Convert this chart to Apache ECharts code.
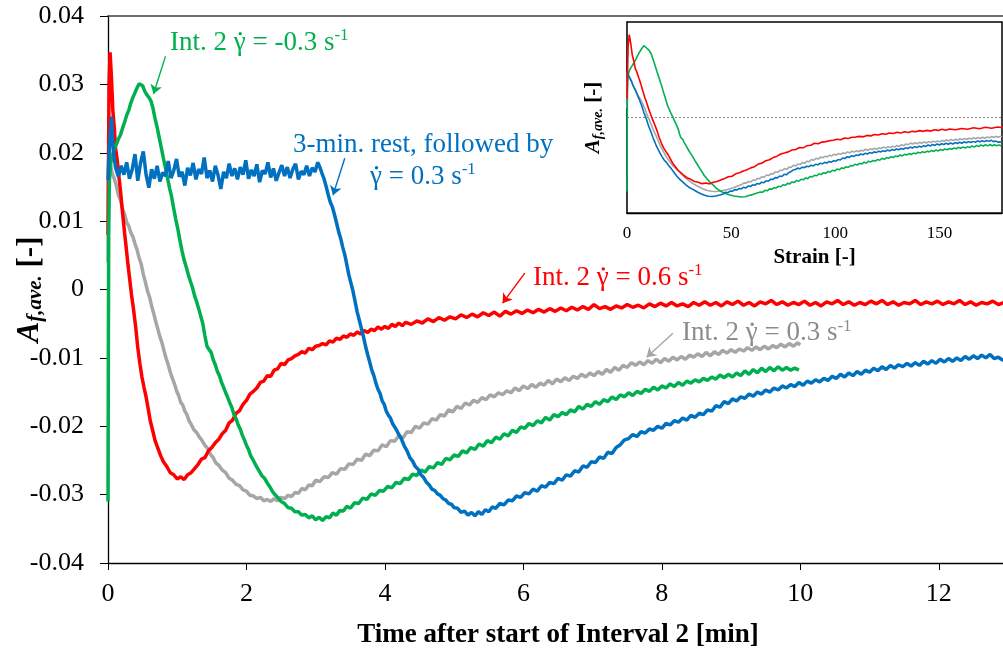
<!DOCTYPE html>
<html><head><meta charset="utf-8">
<script src="https://cdn.jsdelivr.net/npm/echarts@6/dist/echarts.min.js"></script>
<style>html,body{margin:0;padding:0;background:#fff}#c{width:1003px;height:651px}</style>
</head><body><div id="c"></div>
<script>
// [time (min), A_f,ave.]
const redData = [[0,0.008],[0.015,0.03],[0.03,0.0347],[0.05,0.031],[0.07,0.0262],[0.09,0.0238],[0.11,0.0205],[0.13,0.0192],[0.16,0.0163],[0.18,0.0145],[0.21,0.0112],[0.24,0.0082],[0.26,0.0064],[0.29,0.0035],[0.31,0.0018],[0.34,-0.0008],[0.37,-0.003],[0.4,-0.0055],[0.43,-0.0085],[0.46,-0.0108],[0.49,-0.0128],[0.52,-0.0143],[0.55,-0.0157],[0.58,-0.0174],[0.61,-0.0192],[0.64,-0.0204],[0.68,-0.0221],[0.72,-0.0232],[0.76,-0.0243],[0.8,-0.0252],[0.85,-0.0259],[0.9,-0.0268],[0.95,-0.0271],[1.0,-0.0277],[1.05,-0.0274],[1.1,-0.0278],[1.15,-0.0271],[1.2,-0.0268],[1.25,-0.0262],[1.3,-0.0256],[1.35,-0.0248],[1.4,-0.0246],[1.45,-0.0236],[1.5,-0.0231],[1.55,-0.0224],[1.6,-0.0219],[1.65,-0.0211],[1.7,-0.0206],[1.75,-0.0195],[1.8,-0.0191],[1.85,-0.0181],[1.9,-0.0177],[1.95,-0.0168],[2.0,-0.0162],[2.05,-0.0153],[2.1,-0.0149],[2.15,-0.0144],[2.2,-0.0136],[2.25,-0.0134],[2.3,-0.0126],[2.35,-0.0127],[2.4,-0.0118],[2.45,-0.0116],[2.5,-0.0108],[2.55,-0.011],[2.6,-0.0103],[2.65,-0.0101],[2.7,-0.0097],[2.75,-0.0095],[2.8,-0.0091],[2.85,-0.0093],[2.9,-0.0086],[2.95,-0.0088],[3.0,-0.0083],[3.05,-0.0082],[3.1,-0.0079],[3.15,-0.0081],[3.2,-0.0075],[3.25,-0.0077],[3.3,-0.0071],[3.35,-0.0073],[3.4,-0.0068],[3.45,-0.007],[3.5,-0.0065],[3.55,-0.0067],[3.6,-0.0062],[3.65,-0.0065],[3.7,-0.006],[3.75,-0.0063],[3.8,-0.0058],[3.85,-0.006],[3.9,-0.0055],[3.95,-0.0058],[4.0,-0.0054],[4.05,-0.0057],[4.1,-0.0051],[4.15,-0.0054],[4.2,-0.0049],[4.25,-0.0053],[4.3,-0.0048],[4.38,-0.0051],[4.46,-0.0046],[4.54,-0.0049],[4.62,-0.0043],[4.7,-0.0047],[4.78,-0.0041],[4.86,-0.0045],[4.94,-0.004],[5.02,-0.0043],[5.1,-0.0037],[5.18,-0.0041],[5.26,-0.0036],[5.34,-0.004],[5.42,-0.0034],[5.5,-0.0038],[5.58,-0.0033],[5.66,-0.0039],[5.74,-0.0032],[5.82,-0.0036],[5.9,-0.0031],[5.98,-0.0035],[6.06,-0.003],[6.14,-0.0034],[6.22,-0.0029],[6.3,-0.0033],[6.38,-0.0028],[6.46,-0.0032],[6.54,-0.0027],[6.62,-0.0031],[6.7,-0.0026],[6.78,-0.003],[6.86,-0.0025],[6.94,-0.0029],[7.02,-0.0022],[7.1,-0.0028],[7.18,-0.0025],[7.26,-0.0029],[7.34,-0.0024],[7.42,-0.0027],[7.5,-0.0022],[7.58,-0.0026],[7.66,-0.0023],[7.74,-0.0027],[7.82,-0.0021],[7.9,-0.0025],[7.98,-0.002],[8.06,-0.0024],[8.14,-0.0019],[8.22,-0.0024],[8.3,-0.0021],[8.38,-0.0025],[8.46,-0.0019],[8.54,-0.0023],[8.62,-0.0018],[8.7,-0.0023],[8.78,-0.0019],[8.86,-0.0024],[8.94,-0.0018],[9.02,-0.0022],[9.1,-0.0017],[9.18,-0.0023],[9.26,-0.0019],[9.34,-0.0024],[9.42,-0.0018],[9.5,-0.0021],[9.58,-0.0016],[9.66,-0.0022],[9.74,-0.0018],[9.82,-0.0023],[9.9,-0.0019],[9.98,-0.0022],[10.06,-0.0017],[10.14,-0.0023],[10.22,-0.0019],[10.3,-0.0024],[10.38,-0.0018],[10.46,-0.0021],[10.54,-0.0016],[10.62,-0.0022],[10.7,-0.0018],[10.78,-0.0023],[10.86,-0.0019],[10.94,-0.0022],[11.02,-0.0017],[11.1,-0.0021],[11.18,-0.0016],[11.26,-0.0022],[11.34,-0.0018],[11.42,-0.0023],[11.5,-0.0019],[11.58,-0.0021],[11.66,-0.0016],[11.74,-0.0022],[11.82,-0.0018],[11.9,-0.0021],[11.98,-0.0017],[12.06,-0.0022],[12.14,-0.0018],[12.22,-0.0021],[12.3,-0.0016],[12.38,-0.0022],[12.46,-0.0018],[12.54,-0.0023],[12.62,-0.0019],[12.7,-0.0021],[12.78,-0.0017],[12.86,-0.0022],[12.94,-0.0019],[13.0,-0.002]];

const grayData = [[0,0.004],[0.01,0.019],[0.03,0.0185],[0.06,0.017],[0.09,0.0162],[0.12,0.0152],[0.15,0.0138],[0.18,0.0131],[0.21,0.0118],[0.24,0.011],[0.27,0.0098],[0.3,0.0093],[0.33,0.0083],[0.36,0.0077],[0.39,0.0067],[0.42,0.0058],[0.45,0.0046],[0.48,0.0037],[0.51,0.0022],[0.54,0.0011],[0.57,-0.0002],[0.6,-0.0011],[0.63,-0.0024],[0.66,-0.0035],[0.69,-0.0047],[0.72,-0.0058],[0.75,-0.0069],[0.78,-0.0078],[0.81,-0.009],[0.84,-0.0101],[0.87,-0.011],[0.9,-0.0121],[0.93,-0.013],[0.96,-0.0138],[0.99,-0.0148],[1.02,-0.0155],[1.05,-0.0165],[1.08,-0.0169],[1.11,-0.0178],[1.14,-0.0183],[1.17,-0.0192],[1.2,-0.0197],[1.24,-0.0205],[1.28,-0.0209],[1.32,-0.0216],[1.36,-0.0221],[1.4,-0.0228],[1.44,-0.0232],[1.48,-0.0241],[1.52,-0.0246],[1.56,-0.0254],[1.6,-0.0257],[1.65,-0.0264],[1.7,-0.0268],[1.75,-0.0276],[1.8,-0.0279],[1.85,-0.0285],[1.9,-0.0287],[1.95,-0.0293],[2.0,-0.0295],[2.05,-0.0301],[2.1,-0.0302],[2.15,-0.0306],[2.2,-0.0304],[2.25,-0.0309],[2.3,-0.0307],[2.35,-0.031],[2.4,-0.0306],[2.45,-0.0309],[2.5,-0.0304],[2.55,-0.0306],[2.6,-0.0301],[2.65,-0.0303],[2.7,-0.0297],[2.75,-0.0298],[2.8,-0.0291],[2.85,-0.0293],[2.9,-0.0286],[2.95,-0.0287],[3.0,-0.0279],[3.06,-0.0281],[3.12,-0.0274],[3.18,-0.0275],[3.24,-0.0268],[3.3,-0.027],[3.36,-0.0262],[3.42,-0.0263],[3.48,-0.0255],[3.54,-0.0256],[3.6,-0.0248],[3.66,-0.025],[3.72,-0.0241],[3.78,-0.0243],[3.84,-0.0235],[3.9,-0.0236],[3.96,-0.0227],[4.02,-0.023],[4.08,-0.0221],[4.14,-0.0222],[4.2,-0.0214],[4.26,-0.0217],[4.32,-0.0208],[4.38,-0.0209],[4.44,-0.02],[4.5,-0.0203],[4.56,-0.0195],[4.62,-0.0197],[4.68,-0.0189],[4.74,-0.0191],[4.8,-0.0183],[4.86,-0.0185],[4.92,-0.0176],[4.98,-0.0179],[5.04,-0.0171],[5.1,-0.0174],[5.16,-0.0166],[5.22,-0.0169],[5.28,-0.0162],[5.34,-0.0165],[5.4,-0.0158],[5.46,-0.0161],[5.52,-0.0154],[5.58,-0.0157],[5.64,-0.0151],[5.7,-0.0154],[5.76,-0.0148],[5.82,-0.0151],[5.88,-0.0144],[5.94,-0.0148],[6.0,-0.0141],[6.06,-0.0145],[6.12,-0.0139],[6.18,-0.0143],[6.24,-0.0137],[6.3,-0.014],[6.36,-0.0133],[6.42,-0.0138],[6.48,-0.0131],[6.54,-0.0135],[6.6,-0.0129],[6.66,-0.0133],[6.72,-0.0127],[6.78,-0.013],[6.84,-0.0124],[6.9,-0.0128],[6.96,-0.0122],[7.02,-0.0126],[7.08,-0.012],[7.14,-0.0124],[7.2,-0.0117],[7.26,-0.0121],[7.32,-0.0114],[7.38,-0.0118],[7.44,-0.0111],[7.5,-0.0114],[7.56,-0.0107],[7.62,-0.0111],[7.68,-0.0106],[7.74,-0.011],[7.8,-0.0104],[7.86,-0.0108],[7.92,-0.0102],[7.98,-0.0107],[8.04,-0.0101],[8.1,-0.0105],[8.16,-0.0099],[8.22,-0.0103],[8.28,-0.0098],[8.34,-0.0102],[8.4,-0.0096],[8.46,-0.0099],[8.52,-0.0094],[8.58,-0.0098],[8.64,-0.0092],[8.7,-0.0097],[8.76,-0.0091],[8.82,-0.0095],[8.88,-0.0089],[8.94,-0.0093],[9.0,-0.0088],[9.06,-0.0092],[9.12,-0.0087],[9.18,-0.009],[9.24,-0.0085],[9.3,-0.0089],[9.36,-0.0084],[9.42,-0.0088],[9.48,-0.0083],[9.54,-0.0087],[9.6,-0.0082],[9.66,-0.0085],[9.72,-0.008],[9.78,-0.0084],[9.84,-0.0079],[9.9,-0.0083],[9.96,-0.0078],[10.0,-0.0081]];

const greenData = [[0,-0.031],[0.005,-0.01],[0.01,0.008],[0.02,0.016],[0.04,0.0185],[0.06,0.0195],[0.08,0.0202],[0.1,0.0208],[0.12,0.0212],[0.15,0.022],[0.18,0.0226],[0.21,0.0236],[0.24,0.0245],[0.27,0.0255],[0.3,0.0262],[0.33,0.0273],[0.36,0.0281],[0.39,0.0288],[0.42,0.0295],[0.45,0.0301],[0.47,0.0303],[0.5,0.0298],[0.53,0.029],[0.56,0.0285],[0.59,0.0281],[0.62,0.0276],[0.65,0.0265],[0.68,0.025],[0.71,0.0237],[0.74,0.0222],[0.77,0.0207],[0.8,0.0192],[0.83,0.0178],[0.86,0.0163],[0.89,0.0148],[0.92,0.0135],[0.95,0.0118],[0.98,0.0102],[1.01,0.0088],[1.04,0.0071],[1.07,0.0056],[1.1,0.0043],[1.13,0.0033],[1.16,0.0022],[1.19,0.0012],[1.22,0.0003],[1.25,-0.0009],[1.28,-0.0018],[1.31,-0.0028],[1.34,-0.0039],[1.37,-0.005],[1.4,-0.0068],[1.43,-0.0083],[1.46,-0.0088],[1.49,-0.0092],[1.52,-0.0103],[1.55,-0.011],[1.58,-0.012],[1.61,-0.0126],[1.64,-0.0136],[1.67,-0.0143],[1.7,-0.0151],[1.73,-0.0158],[1.76,-0.0166],[1.79,-0.0173],[1.82,-0.0183],[1.85,-0.0189],[1.88,-0.0198],[1.91,-0.0204],[1.94,-0.0213],[1.97,-0.022],[2.0,-0.0228],[2.03,-0.0234],[2.06,-0.0243],[2.1,-0.025],[2.14,-0.0258],[2.18,-0.0265],[2.22,-0.0272],[2.26,-0.0276],[2.3,-0.0283],[2.34,-0.0289],[2.38,-0.0296],[2.42,-0.0301],[2.46,-0.0305],[2.5,-0.031],[2.55,-0.0313],[2.6,-0.0319],[2.65,-0.032],[2.7,-0.0325],[2.75,-0.0325],[2.8,-0.033],[2.85,-0.0329],[2.9,-0.0334],[2.95,-0.0331],[3.0,-0.0337],[3.05,-0.0333],[3.1,-0.0338],[3.15,-0.0332],[3.2,-0.0334],[3.25,-0.0327],[3.3,-0.033],[3.35,-0.0323],[3.4,-0.0324],[3.45,-0.0317],[3.5,-0.032],[3.56,-0.0312],[3.62,-0.0313],[3.68,-0.0305],[3.74,-0.0307],[3.8,-0.0299],[3.86,-0.0301],[3.92,-0.0294],[3.98,-0.0295],[4.04,-0.0288],[4.1,-0.029],[4.16,-0.0282],[4.22,-0.0284],[4.28,-0.0276],[4.34,-0.0278],[4.4,-0.027],[4.46,-0.0272],[4.52,-0.0264],[4.58,-0.0267],[4.64,-0.0259],[4.7,-0.0261],[4.76,-0.0253],[4.82,-0.0256],[4.88,-0.0247],[4.94,-0.0249],[5.0,-0.0242],[5.06,-0.0244],[5.12,-0.0236],[5.18,-0.0239],[5.24,-0.0231],[5.3,-0.0234],[5.36,-0.0226],[5.42,-0.0229],[5.48,-0.0221],[5.54,-0.0224],[5.6,-0.0216],[5.66,-0.0219],[5.72,-0.0211],[5.78,-0.0214],[5.84,-0.0206],[5.9,-0.0209],[5.96,-0.0201],[6.02,-0.0203],[6.08,-0.0196],[6.14,-0.0199],[6.2,-0.0192],[6.26,-0.0195],[6.32,-0.0187],[6.38,-0.0191],[6.44,-0.0183],[6.5,-0.0186],[6.56,-0.018],[6.62,-0.0183],[6.68,-0.0176],[6.74,-0.0179],[6.8,-0.0171],[6.86,-0.0175],[6.92,-0.0168],[6.98,-0.0171],[7.04,-0.0164],[7.1,-0.0168],[7.16,-0.0161],[7.22,-0.0164],[7.28,-0.0157],[7.34,-0.0161],[7.4,-0.0154],[7.46,-0.0157],[7.52,-0.0151],[7.58,-0.0155],[7.64,-0.0149],[7.7,-0.0152],[7.76,-0.0146],[7.82,-0.0149],[7.88,-0.0143],[7.94,-0.0147],[8.0,-0.0141],[8.06,-0.0144],[8.12,-0.0138],[8.18,-0.0142],[8.24,-0.0136],[8.3,-0.014],[8.36,-0.0134],[8.42,-0.0137],[8.48,-0.0132],[8.54,-0.0135],[8.6,-0.013],[8.66,-0.0133],[8.72,-0.0128],[8.78,-0.0131],[8.84,-0.0125],[8.9,-0.0129],[8.96,-0.0124],[9.02,-0.0128],[9.08,-0.0122],[9.14,-0.0126],[9.2,-0.0119],[9.26,-0.0124],[9.32,-0.0117],[9.38,-0.0122],[9.44,-0.0115],[9.5,-0.012],[9.56,-0.0114],[9.62,-0.0119],[9.68,-0.0113],[9.74,-0.0118],[9.8,-0.0114],[9.86,-0.0118],[9.92,-0.0115],[9.98,-0.0118]];

const blueData = [[0,0.016],[0.02,0.021],[0.05,0.0253],[0.07,0.021],[0.09,0.0192],[0.11,0.0178],[0.15,0.0165],[0.19,0.0181],[0.23,0.0168],[0.27,0.0186],[0.31,0.0162],[0.35,0.0176],[0.39,0.0198],[0.43,0.0159],[0.47,0.0185],[0.51,0.0202],[0.55,0.0168],[0.59,0.0149],[0.63,0.0176],[0.67,0.0162],[0.71,0.0181],[0.75,0.0158],[0.79,0.0171],[0.83,0.0166],[0.87,0.0188],[0.91,0.0163],[0.95,0.0174],[0.99,0.0191],[1.03,0.0165],[1.07,0.0172],[1.11,0.0152],[1.15,0.0178],[1.19,0.0167],[1.23,0.0185],[1.27,0.0161],[1.31,0.0176],[1.35,0.0169],[1.39,0.0193],[1.43,0.0163],[1.47,0.0174],[1.51,0.0158],[1.55,0.0181],[1.59,0.0167],[1.63,0.0147],[1.67,0.0172],[1.71,0.0163],[1.75,0.0184],[1.79,0.0166],[1.83,0.0177],[1.87,0.0161],[1.91,0.0179],[1.95,0.0168],[1.99,0.0189],[2.03,0.0162],[2.07,0.0175],[2.11,0.0166],[2.15,0.0183],[2.19,0.0157],[2.23,0.0174],[2.27,0.0169],[2.31,0.0186],[2.35,0.0164],[2.39,0.0177],[2.43,0.0159],[2.47,0.0171],[2.51,0.0182],[2.55,0.0166],[2.59,0.0179],[2.63,0.0163],[2.67,0.0176],[2.71,0.0184],[2.75,0.0161],[2.79,0.0173],[2.83,0.0168],[2.87,0.0181],[2.91,0.0166],[2.95,0.0178],[2.99,0.0172],[3.03,0.0186],[3.06,0.0179],[3.09,0.017],[3.12,0.0162],[3.15,0.0151],[3.18,0.0139],[3.21,0.0128],[3.24,0.0121],[3.27,0.011],[3.3,0.0098],[3.33,0.0085],[3.36,0.0075],[3.39,0.0062],[3.42,0.0051],[3.45,0.0036],[3.48,0.0021],[3.51,0.0009],[3.54,-0.0003],[3.57,-0.0018],[3.6,-0.0033],[3.63,-0.0045],[3.66,-0.0057],[3.69,-0.0069],[3.72,-0.0083],[3.75,-0.0095],[3.78,-0.0106],[3.81,-0.0118],[3.84,-0.0126],[3.87,-0.0137],[3.9,-0.0146],[3.93,-0.0152],[3.96,-0.0163],[3.99,-0.0168],[4.02,-0.0178],[4.05,-0.0184],[4.08,-0.0188],[4.11,-0.0196],[4.14,-0.0201],[4.17,-0.0206],[4.2,-0.0212],[4.24,-0.0219],[4.28,-0.0229],[4.32,-0.0236],[4.36,-0.0246],[4.4,-0.0251],[4.44,-0.0259],[4.48,-0.0263],[4.52,-0.0271],[4.56,-0.0275],[4.6,-0.0282],[4.64,-0.0286],[4.68,-0.0292],[4.72,-0.0294],[4.76,-0.0299],[4.8,-0.0301],[4.84,-0.0306],[4.88,-0.0308],[4.92,-0.0313],[4.96,-0.0314],[5.0,-0.0319],[5.05,-0.032],[5.1,-0.0326],[5.15,-0.0324],[5.2,-0.033],[5.25,-0.0326],[5.3,-0.0331],[5.35,-0.0325],[5.4,-0.0329],[5.45,-0.0322],[5.5,-0.0325],[5.55,-0.0318],[5.6,-0.032],[5.66,-0.0313],[5.72,-0.0315],[5.78,-0.0308],[5.84,-0.0309],[5.9,-0.0302],[5.96,-0.0304],[6.02,-0.0297],[6.08,-0.0299],[6.14,-0.0292],[6.2,-0.0295],[6.26,-0.0287],[6.32,-0.0289],[6.38,-0.0282],[6.44,-0.0284],[6.5,-0.0276],[6.56,-0.0279],[6.62,-0.0271],[6.68,-0.0273],[6.74,-0.0265],[6.8,-0.0267],[6.86,-0.0258],[6.92,-0.026],[6.98,-0.0252],[7.04,-0.0253],[7.1,-0.0245],[7.16,-0.0247],[7.22,-0.0238],[7.28,-0.024],[7.34,-0.0231],[7.4,-0.0227],[7.46,-0.022],[7.52,-0.0218],[7.58,-0.0212],[7.64,-0.0215],[7.7,-0.0208],[7.76,-0.021],[7.82,-0.0204],[7.88,-0.0206],[7.94,-0.02],[8.0,-0.0203],[8.06,-0.0196],[8.12,-0.0198],[8.18,-0.0192],[8.24,-0.0194],[8.3,-0.0188],[8.36,-0.0191],[8.42,-0.0184],[8.48,-0.0187],[8.54,-0.0181],[8.6,-0.0183],[8.66,-0.0176],[8.72,-0.0178],[8.78,-0.017],[8.84,-0.0172],[8.9,-0.0164],[8.96,-0.0167],[9.02,-0.016],[9.08,-0.0163],[9.14,-0.0157],[9.2,-0.0159],[9.26,-0.0153],[9.32,-0.0156],[9.38,-0.015],[9.44,-0.0153],[9.5,-0.0147],[9.56,-0.015],[9.62,-0.0144],[9.68,-0.0147],[9.74,-0.0141],[9.8,-0.0144],[9.86,-0.0139],[9.92,-0.0142],[9.98,-0.0136],[10.04,-0.014],[10.1,-0.0134],[10.16,-0.0137],[10.22,-0.0132],[10.28,-0.0135],[10.34,-0.013],[10.4,-0.0133],[10.46,-0.0127],[10.52,-0.013],[10.58,-0.0124],[10.64,-0.0128],[10.7,-0.0122],[10.76,-0.0126],[10.82,-0.012],[10.88,-0.0124],[10.94,-0.0118],[11.0,-0.0121],[11.06,-0.0115],[11.12,-0.0119],[11.18,-0.0113],[11.24,-0.0117],[11.3,-0.0111],[11.36,-0.0115],[11.42,-0.011],[11.48,-0.0113],[11.54,-0.0108],[11.6,-0.0112],[11.66,-0.0107],[11.72,-0.0111],[11.78,-0.0105],[11.84,-0.0109],[11.9,-0.0104],[11.96,-0.0108],[12.02,-0.0102],[12.08,-0.0106],[12.14,-0.0101],[12.2,-0.0105],[12.26,-0.01],[12.32,-0.0104],[12.38,-0.0098],[12.44,-0.0102],[12.5,-0.0097],[12.56,-0.0101],[12.62,-0.0096],[12.68,-0.01],[12.74,-0.0095],[12.8,-0.0101],[12.86,-0.0099],[12.92,-0.0103],[13.0,-0.0102]];

// strain conversion for the inset: strain = (t - start) * |shear rate| * 60
const shearRates = { red: 0.6, gray: 0.3, green: 0.3, blue: 0.3 };
const shearStart = { red: 0, gray: 0, green: 0, blue: 3.03 };

// annotation arrows [tail, head] in data coords
const arrowGreen = [[0.83, 0.0341], [0.657, 0.0286]];
const arrowBlue = [[3.42, 0.0192], [3.25, 0.0138]];
const arrowRed = [[6.02, 0.0024], [5.70, -0.0020]];
const arrowGray = [[8.16, -0.0064], [7.78, -0.0099]];

const COLORS = { red: '#FF0000', gray: '#A6A6A6', green: '#00B050', blue: '#0070C0' };
const FONT = '"Liberation Serif", "Times New Roman", serif';
const NOTE_SIZE = 27;

function toStrain(data, key) {
  const s = shearStart[key], k = shearRates[key] * 60;
  return data.filter(d => d[0] >= s).map(d => [(d[0] - s) * k, d[1]]);
}

function arrowML(a, color) {
  return [{ coord: a[0], symbol: 'none', lineStyle: { color, width: 1.4, type: 'solid' } },
          { coord: a[1], symbol: 'arrow', symbolSize: 9 }];
}

const chart = echarts.init(document.getElementById('c'), null, { renderer: 'canvas' });

const mainLine = (name, data, color, ml) => ({
  name, type: 'line', xAxisIndex: 0, yAxisIndex: 0, data, showSymbol: false, symbol: 'none',
  lineStyle: { color, width: 3.5 }, z: 3, silent: true,
  markLine: ml ? { silent: true, symbol: ['none', 'none'], label: { show: false }, data: ml, animation: false } : undefined
});
const insetLine = (name, data, color) => ({
  name, type: 'line', xAxisIndex: 2, yAxisIndex: 1, data, showSymbol: false, symbol: 'none',
  lineStyle: { color, width: 1.6 }, z: 6, silent: true
});

chart.setOption({
  animation: false,
  backgroundColor: '#fff',
  grid: [
    { left: 108, top: 16, width: 900, height: 547, containLabel: false, outerBoundsMode: 'none' },
    { left: 627, top: 22, width: 375, height: 191, containLabel: false, outerBoundsMode: 'none',
      show: true, backgroundColor: '#fff', borderColor: '#000', borderWidth: 1.5, z: 5 }
  ],
  xAxis: [
    { type: 'value', gridIndex: 0, min: 0, max: 13, interval: 2, position: 'bottom',
      axisLine: { onZero: false, lineStyle: { color: '#000', width: 1.3 } },
      axisTick: { show: true, inside: false, length: 7, lineStyle: { color: '#000' } },
      axisLabel: { margin: 18, fontFamily: FONT, fontSize: 26, color: '#000', showMaxLabel: false },
      splitLine: { show: false },
      name: 'Time after start of Interval 2 [min]', nameLocation: 'middle', nameGap: 59, nameMoveOverlap: false,
      nameTextStyle: { fontFamily: FONT, fontSize: 27, fontWeight: 'bold', color: '#000' } },
    { type: 'value', gridIndex: 0, min: 0, max: 13, position: 'top',
      axisLine: { onZero: false, lineStyle: { color: '#404040', width: 1.5 } },
      axisTick: { show: false }, axisLabel: { show: false }, splitLine: { show: false } },
    { type: 'value', gridIndex: 1, min: 0, max: 180, interval: 50, position: 'bottom',
      axisLine: { onZero: false, lineStyle: { color: '#000', width: 1.3 } },
      axisTick: { show: false },
      axisLabel: { margin: 12, fontFamily: FONT, fontSize: 17, color: '#000', showMaxLabel: false },
      splitLine: { show: false },
      name: 'Strain [-]', nameLocation: 'middle', nameGap: 34, nameMoveOverlap: false,
      nameTextStyle: { fontFamily: FONT, fontSize: 21, fontWeight: 'bold', color: '#000' } }
  ],
  yAxis: [
    { type: 'value', gridIndex: 0, min: -0.04, max: 0.04, interval: 0.01,
      axisLine: { show: true, onZero: false, lineStyle: { color: '#000', width: 1.3 } },
      axisTick: { show: true, inside: false, length: 8, lineStyle: { color: '#000' } },
      axisLabel: { margin: 24, fontFamily: FONT, fontSize: 26, color: '#000',
        formatter: v => Math.abs(v) < 1e-9 ? '0' : v.toFixed(2) },
      splitLine: { show: false },
      name: '{a|A}{s|f,ave.}{b| [-]}', nameLocation: 'middle', nameGap: 62, nameRotate: 90, nameMoveOverlap: false,
      nameTextStyle: { color: '#000', rich: {
        a: { fontFamily: FONT, fontSize: 31, fontWeight: 'bold', fontStyle: 'italic' },
        s: { fontFamily: FONT, fontSize: 21, fontWeight: 'bold', fontStyle: 'italic', padding: [12, 0, 0, 0] },
        b: { fontFamily: FONT, fontSize: 31, fontWeight: 'bold' } } } },
    { type: 'value', gridIndex: 1, min: -0.04, max: 0.04,
      axisLine: { show: true, onZero: false, lineStyle: { color: '#000', width: 1.3 } },
      axisTick: { show: false }, axisLabel: { show: false }, splitLine: { show: false },
      name: '{a|A}{s|f,ave.}{b| [-]}', nameLocation: 'middle', nameGap: 22, nameRotate: 90, nameMoveOverlap: false,
      nameTextStyle: { color: '#000', rich: {
        a: { fontFamily: FONT, fontSize: 21, fontWeight: 'bold', fontStyle: 'italic' },
        s: { fontFamily: FONT, fontSize: 14, fontWeight: 'bold', fontStyle: 'italic', padding: [8, 0, 0, 0] },
        b: { fontFamily: FONT, fontSize: 21, fontWeight: 'bold' } } } }
  ],
  series: [
    mainLine('gray', grayData, COLORS.gray, [
      [{ yAxis: 0, lineStyle: { color: '#000', width: 1, type: [6, 4] }, symbol: 'none' }, { yAxis: 0, x: 1008, symbol: 'none' }],
      arrowML(arrowGray, '#A6A6A6')]),
    mainLine('red', redData, COLORS.red, [arrowML(arrowRed, COLORS.red)]),
    mainLine('green', greenData, COLORS.green, [arrowML(arrowGreen, COLORS.green)]),
    mainLine('blue', blueData, COLORS.blue, [arrowML(arrowBlue, COLORS.blue)]),
    Object.assign(insetLine('gray-i', toStrain(grayData, 'gray'), COLORS.gray), {
      markLine: { silent: true, symbol: ['none', 'none'], label: { show: false }, animation: false,
        data: [{ yAxis: 0, lineStyle: { color: '#808080', width: 1, type: [2, 2] } }] } }),
    insetLine('green-i', toStrain(greenData, 'green'), COLORS.green),
    insetLine('blue-i', toStrain(blueData, 'blue'), COLORS.blue),
    insetLine('red-i', toStrain(redData, 'red'), COLORS.red)
  ]
});

// annotation texts: left anchor in data coordinates; gamma gets an overdot
const notes = [
  { at: [0.896, 0.0361], pre: 'Int. 2 ', post: ' = -0.3 s', color: COLORS.green },
  { at: [2.672, 0.0211], pre: '3-min. rest, followed by', post: null, color: COLORS.blue },
  { at: [3.785, 0.0165], pre: '', post: ' = 0.3 s', color: COLORS.blue },
  { at: [6.096, 0.0017], pre: 'Int. 2 ', post: ' = 0.6 s', color: COLORS.red, bg: '#fff' },
  { at: [8.291, -0.0064], pre: 'Int. 2 ', post: ' = 0.3 s', color: '#8C8C8C' }
];
const mctx = document.createElement('canvas').getContext('2d');
function tw(str, size) { mctx.font = size + 'px "Liberation Serif"'; return mctx.measureText(str).width; }
const P = (t, v) => chart.convertToPixel({ xAxisIndex: 0, yAxisIndex: 0 }, [t, v]);
const graphics = [];
notes.forEach(n => {
  const p = P(n.at[0], n.at[1]);
  const rich = {
    a: { fontFamily: FONT, fontSize: NOTE_SIZE, fill: n.color },
    s: { fontFamily: FONT, fontSize: 17, fill: n.color, padding: [0, 0, 14, 0] }
  };
  const text = n.post === null ? '{a|' + n.pre + '}' : '{a|' + n.pre + '\u03B3' + n.post + '}{s|-1}';
  graphics.push({ type: 'text', x: p[0], y: p[1], z: 10, silent: true,
    style: { text, rich, fill: n.color, align: 'left', verticalAlign: 'middle',
      backgroundColor: n.bg || 'transparent', padding: n.bg ? [0, 3, 0, 3] : 0 } });
  if (n.post !== null) {
    const dx = (n.bg ? 3 : 0) + tw(n.pre, NOTE_SIZE) + tw('\u03B3', NOTE_SIZE) / 2 + 0.5;
    graphics.push({ type: 'circle', shape: { cx: p[0] + dx, cy: p[1] - 9, r: 1.7 }, z: 11, silent: true,
      style: { fill: n.color } });
  }
});
chart.setOption({ graphic: graphics });
</script></body></html>
